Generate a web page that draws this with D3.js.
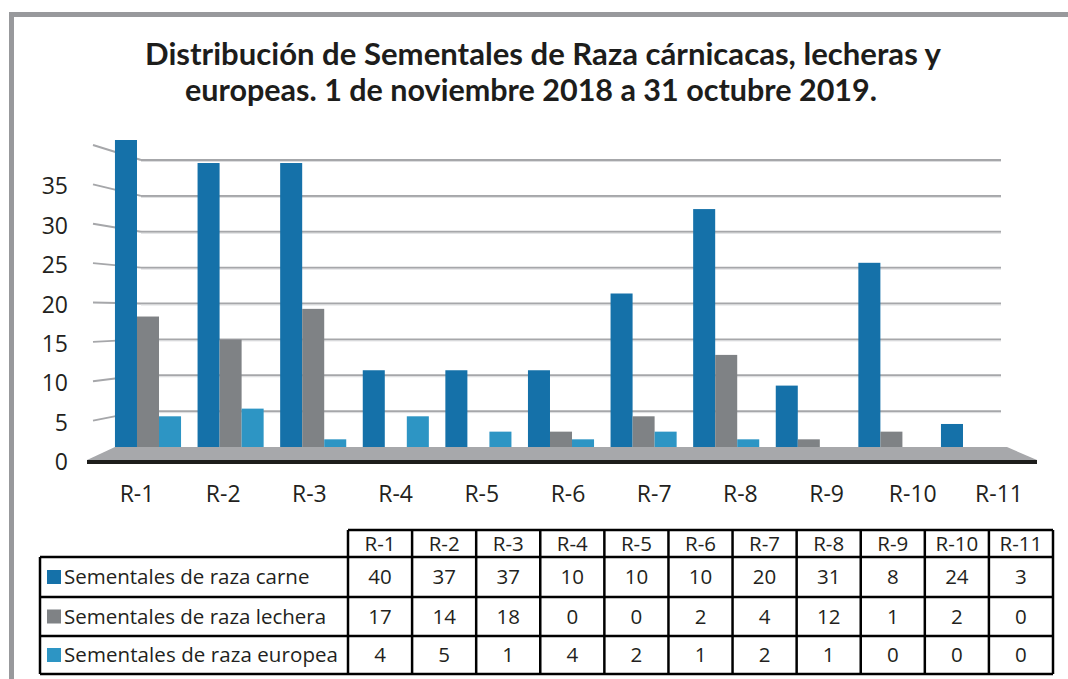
<!DOCTYPE html>
<html>
<head>
<meta charset="utf-8">
<script src="https://cdn.jsdelivr.net/npm/d3@7"></script>
<style>
  body { margin: 0; background: #fff; }
  svg { display: block; }
</style>
</head>
<body>
<div id="chart"></div>
<script>
const categories = ["R-1", "R-2", "R-3", "R-4", "R-5", "R-6", "R-7", "R-8", "R-9", "R-10", "R-11"];
const carne = [40, 37, 37, 10, 10, 10, 20, 31, 8, 24, 3];
const lechera = [17, 14, 18, 0, 0, 2, 4, 12, 1, 2, 0];
const europea = [4, 5, 1, 4, 2, 1, 2, 1, 0, 0, 0];
const seriesNames = ["Sementales de raza carne", "Sementales de raza lechera", "Sementales de raza europea"];
const seriesColors = ["#1571a9", "#7f8285", "#2d95c4"];
const yTicks = [0, 5, 10, 15, 20, 25, 30, 35];
const gridValues = [5, 10, 15, 20, 25, 30, 35, 40];
const titleLines = ["Distribución de Sementales de Raza cárnicacas, lecheras y",
                    "europeas. 1 de noviembre 2018 a 31 octubre 2019."];

const width = 1068, height = 679;
const seriesValues = [carne, lechera, europea];

const svg = d3.select("#chart").append("svg")
    .attr("width", width)
    .attr("height", height);

// outer frame (only top and left visible)
svg.append("rect").attr("x", 9).attr("y", 12).attr("width", width).attr("height", 5).attr("fill", "#98999c");
svg.append("rect").attr("x", 9).attr("y", 12).attr("width", 5).attr("height", height).attr("fill", "#98999c");

// title
const title = svg.append("g")
    .attr("font-family", "Lato, 'Open Sans', sans-serif")
    .attr("font-weight", "bold")
    .attr("font-size", 30)
    .attr("fill", "#1d1d1b")
    .attr("text-anchor", "middle");
title.append("text").attr("x", 543).attr("y", 65)
    .attr("textLength", 796).attr("lengthAdjust", "spacingAndGlyphs").text(titleLines[0]);
title.append("text").attr("x", 531).attr("y", 101)
    .attr("textLength", 692).attr("lengthAdjust", "spacingAndGlyphs").text(titleLines[1]);

// scales: back wall (gridlines), front edge (tick labels), bars
const yBack = d3.scaleLinear().domain([0, 40]).range([447, 160]);
const yFront = d3.scaleLinear().domain([0, 40]).range([460, 145]);
const yBar = d3.scaleLinear().domain([0, 40]).range([447, 140]);

const x = d3.scaleBand().domain(categories).range([106.7, 1015.3]).paddingInner(0.2).paddingOuter(0.1);
const xSeries = d3.scaleBand().domain(d3.range(3)).range([0, x.bandwidth()]);
const xFront = d3.scaleBand().domain(categories).range([93.9, 1042.1]);

// gridlines
const grid = svg.append("g").attr("fill", "none");
grid.selectAll("line.main").data(gridValues).join("line")
    .attr("class", "main")
    .attr("x1", 141).attr("x2", 1001)
    .attr("y1", d => yBack(d)).attr("y2", d => yBack(d))
    .attr("stroke", "#a6a7aa").attr("stroke-width", 2);
grid.selectAll("line.light").data(gridValues).join("line")
    .attr("class", "light")
    .attr("x1", 141).attr("x2", 1001)
    .attr("y1", d => yBack(d) + 1.5).attr("y2", d => yBack(d) + 1.5)
    .attr("stroke", "#dcdddf").attr("stroke-width", 1);
grid.selectAll("line.stub").data(gridValues).join("line")
    .attr("class", "stub")
    .attr("x1", 93).attr("x2", 141)
    .attr("y1", d => yFront(d)).attr("y2", d => yBack(d))
    .attr("stroke", "#a6a7aa").attr("stroke-width", 2);

// floor
svg.append("path")
    .attr("d", `M${x(categories[0])},447 L1007,447 L1037,460 L87,460 Z`)
    .attr("fill", "#a7a8ab");
svg.append("rect").attr("x", 87).attr("y", 460).attr("width", 950).attr("height", 4).attr("fill", "#1d1d1b");

// bars
const groups = svg.append("g").selectAll("g").data(categories).join("g")
    .attr("transform", d => `translate(${x(d)},0)`);
groups.selectAll("rect")
    .data((d, i) => seriesValues.map((s, j) => ({ s: j, v: s[i] })))
    .join("rect")
    .attr("x", d => xSeries(d.s))
    .attr("width", xSeries.bandwidth())
    .attr("y", d => yBar(d.v))
    .attr("height", d => yBar(0) - yBar(d.v))
    .attr("fill", d => seriesColors[d.s]);

// y labels
svg.append("g").selectAll("text").data(yTicks).join("text")
    .attr("x", 68).attr("y", d => yFront(d) + 2)
    .attr("dy", "0.35em")
    .attr("text-anchor", "end")
    .attr("font-family", "'Open Sans', sans-serif")
    .attr("font-size", 23)
    .attr("fill", "#231f20")
    .text(d => d);

// x labels
svg.append("g").selectAll("text").data(categories).join("text")
    .attr("x", d => xFront(d) + xFront.bandwidth() / 2)
    .attr("y", 502)
    .attr("text-anchor", "middle")
    .attr("font-family", "'Open Sans', sans-serif")
    .attr("font-size", 23)
    .attr("fill", "#231f20")
    .text(d => d);

// data table
const tLeft = 40, tRight = 1053, tCol0 = 348;
const rowY = [530, 557, 597, 636, 674];
const col = d3.scaleBand().domain(categories).range([tCol0, tRight]);
const table = svg.append("g");
const lineStyle = sel => sel.attr("stroke", "#000").attr("stroke-width", 2.5);

table.append("line").attr("x1", tCol0).attr("x2", tRight).attr("y1", rowY[0]).attr("y2", rowY[0]).call(lineStyle);
table.selectAll("line.h").data(rowY.slice(1)).join("line")
    .attr("class", "h")
    .attr("x1", tLeft).attr("x2", tRight)
    .attr("y1", d => d).attr("y2", d => d).call(lineStyle);
table.append("line").attr("x1", tLeft).attr("x2", tLeft).attr("y1", rowY[1]).attr("y2", rowY[4]).call(lineStyle);
table.selectAll("line.v").data(categories.map(c => col(c)).concat([tRight])).join("line")
    .attr("class", "v")
    .attr("x1", d => d).attr("x2", d => d)
    .attr("y1", rowY[0]).attr("y2", rowY[4]).call(lineStyle);

const textStyle = sel => sel
    .attr("font-family", "'Open Sans', sans-serif")
    .attr("font-size", 20.5)
    .attr("fill", "#231f20");

table.selectAll("text.head").data(categories).join("text")
    .attr("class", "head")
    .attr("x", d => col(d) + col.bandwidth() / 2)
    .attr("y", (rowY[0] + rowY[1]) / 2)
    .attr("dy", "0.35em")
    .attr("text-anchor", "middle")
    .call(textStyle)
    .text(d => d);

seriesValues.forEach((vals, j) => {
    const cy = (rowY[j + 1] + rowY[j + 2]) / 2;
    table.append("rect")
        .attr("x", 47).attr("y", cy - 7).attr("width", 14).attr("height", 14)
        .attr("fill", seriesColors[j]);
    table.append("text")
        .attr("x", 64).attr("y", cy).attr("dy", "0.35em")
        .call(textStyle)
        .attr("textLength", j === 2 ? 274 : null)
        .text(seriesNames[j]);
    table.selectAll("text.v" + j).data(vals).join("text")
        .attr("class", "v" + j)
        .attr("x", (d, i) => col(categories[i]) + col.bandwidth() / 2)
        .attr("y", cy).attr("dy", "0.35em")
        .attr("text-anchor", "middle")
        .call(textStyle)
        .text(d => d);
});
</script>
</body>
</html>
